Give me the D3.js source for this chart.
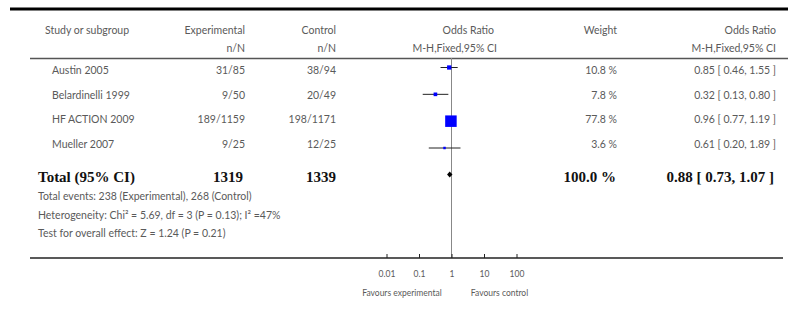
<!DOCTYPE html>
<html>
<head>
<meta charset="utf-8">
<script src="https://cdn.jsdelivr.net/npm/d3@7"></script>
<style>
  body { margin: 0; background: #fff; }
  text { font-family: Lato, "Open Sans", sans-serif; font-size: 10.5px; fill: #5a5a5a; }
  .bold { font-family: "Liberation Serif", serif; font-weight: bold; font-size: 15px; fill: #111; }
</style>
</head>
<body>
<svg id="chart"></svg>
<script>
// data
const studies = ["Austin 2005", "Belardinelli 1999", "HF ACTION 2009", "Mueller 2007"];
const expNN = ["31/85", "9/50", "189/1159", "9/25"];
const ctrlNN = ["38/94", "20/49", "198/1171", "12/25"];
const orValue = [0.85, 0.32, 0.96, 0.61];
const ciLow = [0.46, 0.13, 0.77, 0.20];
const ciHigh = [1.55, 0.80, 1.19, 1.89];
const weights = [10.8, 7.8, 77.8, 3.6];
const total = { exp: 1319, ctrl: 1339, weight: "100.0 %", or: 0.88, lo: 0.73, hi: 1.07 };
const footLines = [
  "Total events: 238 (Experimental), 268 (Control)",
  "Heterogeneity: Chi\u00b2 = 5.69, df = 3 (P = 0.13); I\u00b2 =47%",
  "Test for overall effect: Z = 1.24 (P = 0.21)"
];
const axisTicks = [0.01, 0.1, 1, 10, 100];
const tickLabels = ["0.01", "0.1", "1", "10", "100"];

const width = 788, height = 326;
const svg = d3.select("#chart").attr("width", width).attr("height", height);

// scales
let x = d3.scaleLog().domain([0.01, 100]).range([386.5, 516.5]);
let rowY = d3.scalePoint().domain(studies).range([70, 143.5]);
let markY = d3.scalePoint().domain(studies).range([67.5, 148]);
let boxSize = d3.scaleSqrt().domain([0, 77.8]).range([0, 11.5]);

let fmt = d3.format(".2f");

// top rule
svg.append("line").attr("x1", 10).attr("x2", 788).attr("y1", 9).attr("y2", 9)
  .attr("stroke", "#000").attr("stroke-width", 3);

// headers
let header = svg.append("g");
header.append("text").attr("x", 45).attr("y", 34).text("Study or subgroup");
header.append("text").attr("x", 245).attr("y", 34).attr("text-anchor", "end").text("Experimental");
header.append("text").attr("x", 245).attr("y", 52).attr("text-anchor", "end").text("n/N");
header.append("text").attr("x", 336).attr("y", 34).attr("text-anchor", "end").text("Control");
header.append("text").attr("x", 336).attr("y", 52).attr("text-anchor", "end").text("n/N");
header.append("text").attr("x", 494).attr("y", 34).attr("text-anchor", "end").text("Odds Ratio");
header.append("text").attr("x", 497).attr("y", 52).attr("text-anchor", "end").text("M-H,Fixed,95% CI");
header.append("text").attr("x", 617).attr("y", 34).attr("text-anchor", "end").text("Weight");
header.append("text").attr("x", 776).attr("y", 34).attr("text-anchor", "end").text("Odds Ratio");
header.append("text").attr("x", 776).attr("y", 52).attr("text-anchor", "end").text("M-H,Fixed,95% CI");

svg.append("line").attr("x1", 30).attr("x2", 788).attr("y1", 58.5).attr("y2", 58.5)
  .attr("stroke", "#555").attr("stroke-width", 1.6);

// line of no effect
svg.append("line").attr("x1", x(1)).attr("x2", x(1)).attr("y1", 58).attr("y2", 258)
  .attr("stroke", "#888").attr("stroke-width", 1);

// study rows
let rows = svg.selectAll("g.row").data(studies).enter().append("g").attr("class", "row");
rows.append("text").attr("x", 52).attr("y", (d) => rowY(d) + 4).text((d) => d);
rows.append("text").attr("x", 245).attr("y", (d) => rowY(d) + 4).attr("text-anchor", "end")
  .text((d, i) => expNN[i]);
rows.append("text").attr("x", 336).attr("y", (d) => rowY(d) + 4).attr("text-anchor", "end")
  .text((d, i) => ctrlNN[i]);
rows.append("text").attr("x", 617).attr("y", (d) => rowY(d) + 4).attr("text-anchor", "end")
  .text((d, i) => weights[i] + " %");
rows.append("text").attr("x", 776).attr("y", (d) => rowY(d) + 4).attr("text-anchor", "end")
  .text((d, i) => fmt(orValue[i]) + " [ " + fmt(ciLow[i]) + ", " + fmt(ciHigh[i]) + " ]");

// CI lines and boxes
rows.append("line")
  .attr("x1", (d, i) => x(ciLow[i])).attr("x2", (d, i) => x(ciHigh[i]))
  .attr("y1", (d) => markY(d)).attr("y2", (d) => markY(d))
  .attr("stroke", "#222").attr("stroke-width", 1);
rows.append("rect")
  .attr("x", (d, i) => x(orValue[i]) - boxSize(weights[i]) / 2)
  .attr("y", (d, i) => markY(d) - boxSize(weights[i]) / 2)
  .attr("width", (d, i) => boxSize(weights[i]))
  .attr("height", (d, i) => boxSize(weights[i]))
  .attr("fill", "#0000ff");

// total row
let totY = 177;
svg.append("text").attr("class", "bold").attr("x", 38).attr("y", totY + 5).text("Total (95% CI)");
svg.append("text").attr("class", "bold").attr("x", 243).attr("y", totY + 5).attr("text-anchor", "end").text(total.exp);
svg.append("text").attr("class", "bold").attr("x", 336).attr("y", totY + 5).attr("text-anchor", "end").text(total.ctrl);
svg.append("text").attr("class", "bold").attr("x", 616).attr("y", totY + 5).attr("text-anchor", "end").text(total.weight);
svg.append("text").attr("class", "bold").attr("x", 774).attr("y", totY + 5).attr("text-anchor", "end")
  .text(fmt(total.or) + " [ " + fmt(total.lo) + ", " + fmt(total.hi) + " ]");
let dY = 174.5;
svg.append("path")
  .attr("d", "M" + x(total.lo) + "," + dY + "L" + x(total.or) + "," + (dY - 3) +
    "L" + x(total.hi) + "," + dY + "L" + x(total.or) + "," + (dY + 3) + "Z")
  .attr("fill", "#000");

// footnotes
svg.selectAll("text.foot").data(footLines).enter().append("text").attr("class", "foot")
  .attr("x", 38).attr("y", (d, i) => 200 + i * 18.5).text((d) => d);

// bottom axis
svg.append("line").attr("x1", 30).attr("x2", 783).attr("y1", 258).attr("y2", 258)
  .attr("stroke", "#222").attr("stroke-width", 1.3);
let axis = d3.axisBottom(x).tickValues(axisTicks).tickSize(-4)
  .tickFormat((d, i) => tickLabels[i]);
let ag = svg.append("g").attr("transform", "translate(0,258)").call(axis);
ag.select(".domain").remove();
ag.selectAll(".tick line").attr("stroke", "#222");
ag.selectAll(".tick text").attr("dy", 0).attr("y", 19)
  .style("font-family", "Lato, sans-serif").style("font-size", "8.5px").attr("fill", "#5a5a5a");

svg.append("text").attr("x", x(0.03)).attr("y", 296).attr("text-anchor", "middle")
  .style("font-size", "8.5px").text("Favours experimental");
svg.append("text").attr("x", x(30)).attr("y", 296).attr("text-anchor", "middle")
  .style("font-size", "8.5px").text("Favours control");
</script>
</body>
</html>
